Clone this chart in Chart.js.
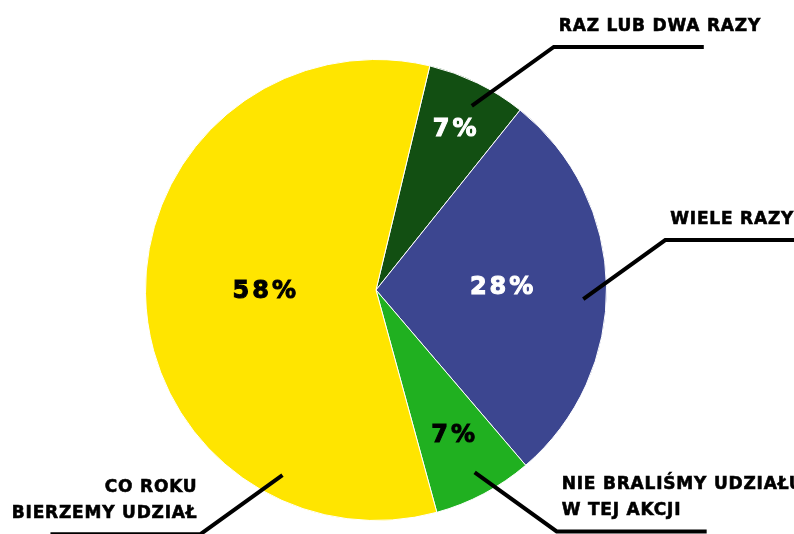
<!DOCTYPE html>
<html>
<head>
<meta charset="utf-8">
<script src="https://cdn.jsdelivr.net/npm/chart.js@4.4.0/dist/chart.umd.min.js"></script>
<style>
  html, body { margin: 0; padding: 0; background: #fff; }
  #wrap { width: 794px; height: 534px; }
</style>
</head>
<body>
<div id="wrap"><canvas id="pieChart"></canvas></div>
<script>
const categories = ['RAZ LUB DWA RAZY', 'WIELE RAZY', 'NIE BRALIŚMY UDZIAŁU W TEJ AKCJI', 'CO ROKU BIERZEMY UDZIAŁ'];
const labelLines = [['RAZ LUB DWA RAZY'], ['WIELE RAZY'], ['NIE BRALIŚMY UDZIAŁU', 'W TEJ AKCJI'], ['CO ROKU', 'BIERZEMY UDZIAŁ']];
const values = [7, 28, 7, 58];
const colors = ['#124f12', '#3c4690', '#20b020', '#ffe500'];
const pctColors = ['#ffffff', '#ffffff', '#000000', '#000000'];

// where the % text sits inside each slice (fraction of radius)
const pctRadius = [0.775, 0.545, 0.715, 0.485];
// where each leader line starts, degrees clockwise from the top, and which way it runs
const leaderAngle = [27.5, 92.5, 151.6, 206.8];
const leaderDirX = [1, 1, 1, -1];
const leaderDirY = [-1, -1, 1, 1];

const calloutPlugin = {
  id: 'callouts',
  afterDraw(chart) {
    const ctx = chart.ctx;
    const meta = chart.getDatasetMeta(0);
    ctx.save();
    meta.data.forEach((arc, i) => {
      const p = arc.getProps(['x', 'y', 'startAngle', 'endAngle', 'outerRadius']);
      const mid = (p.startAngle + p.endAngle) / 2;

      // percent label
      const r = p.outerRadius * pctRadius[i];
      ctx.font = 'bold 24px "DejaVu Sans"';
      ctx.letterSpacing = '3px';
      ctx.fillStyle = pctColors[i];
      ctx.strokeStyle = pctColors[i];
      ctx.lineWidth = 1;
      ctx.textAlign = 'center';
      ctx.textBaseline = 'middle';
      const px = p.x + Math.cos(mid) * r + 1.5;
      const py = p.y + Math.sin(mid) * r;
      ctx.fillText(values[i] + '%', px, py);
      ctx.strokeText(values[i] + '%', px, py);

      // leader line
      const a = (leaderAngle[i] - 90) * Math.PI / 180;
      const sx = p.x + Math.cos(a) * p.outerRadius * 0.9;
      const sy = p.y + Math.sin(a) * p.outerRadius * 0.9;
      const dirX = leaderDirX[i];
      const dirY = leaderDirY[i];
      const ex = sx + dirX * 82;
      const ey = sy + dirY * 59;
      const hx = ex + dirX * 150;
      ctx.strokeStyle = '#000';
      ctx.lineWidth = 4;
      ctx.lineJoin = 'miter';
      ctx.beginPath();
      ctx.moveTo(sx, sy);
      ctx.lineTo(ex, ey);
      ctx.lineTo(hx, ey);
      ctx.stroke();

      // category text
      ctx.font = 'bold 17px "DejaVu Sans"';
      ctx.letterSpacing = '0.8px';
      ctx.fillStyle = '#000';
      ctx.strokeStyle = '#000';
      ctx.lineWidth = 0.6;
      ctx.textBaseline = 'alphabetic';
      ctx.textAlign = dirX > 0 ? 'left' : 'right';
      const tx = dirX > 0 ? ex + 5 : ex - 3;
      const lines = labelLines[i];
      lines.forEach((line, k) => {
        const ty = ey - 16 - (lines.length - 1 - k) * 26;
        ctx.fillText(line, tx, ty);
        ctx.strokeText(line, tx, ty);
      });
    });
    ctx.restore();
  }
};

new Chart(document.getElementById('pieChart').getContext('2d'), {
  type: 'pie',
  data: {
    labels: categories,
    datasets: [{
      data: values,
      backgroundColor: colors,
      borderColor: '#ffffff',
      borderWidth: 1
    }]
  },
  options: {
    responsive: true,
    maintainAspectRatio: false,
    animation: false,
    rotation: 13.5,
    layout: {
      padding: { left: 145, right: 187, top: 59, bottom: 13 }
    },
    plugins: {
      legend: { display: false },
      tooltip: { enabled: false }
    }
  },
  plugins: [calloutPlugin]
});
</script>
</body>
</html>
